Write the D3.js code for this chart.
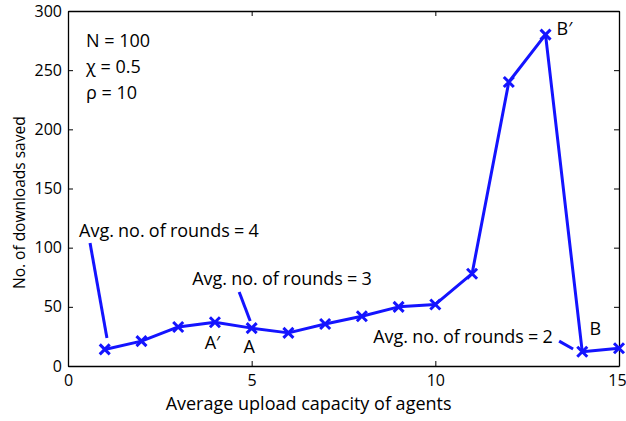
<!DOCTYPE html>
<html>
<head>
<meta charset="utf-8">
<script src="https://cdn.jsdelivr.net/npm/d3@7"></script>
<style>
  body { margin: 0; background: #fff; }
  svg text { font-family: "Open Sans", "Noto Sans", sans-serif; fill: #000; }
</style>
</head>
<body>
<div class="chart"></div>
<script>
// capacity vs downloads saved
const capacity = [1, 2, 3, 4, 5, 6, 7, 8, 9, 10, 11, 12, 13, 14, 15];
const saved = [14, 21, 33, 37, 32, 28, 35.5, 42, 50, 52, 78, 240, 280, 12, 15];
const xTicks = [0, 5, 10, 15];
const yTicks = [0, 50, 100, 150, 200, 250, 300];
const params = ["N = 100", "\u03C7 = 0.5", "\u03C1 = 10"];

var margin = { top: 11, right: 7, bottom: 55, left: 68 },
    width = 626 - margin.left - margin.right,
    height = 421 - margin.top - margin.bottom;

var blue = "#1414ff";

var svg = d3.select('.chart')
    .append('svg')
    .attr("width", width + margin.left + margin.right)
    .attr("height", height + margin.top + margin.bottom)
    .append("g")
    .attr("transform", "translate(" + margin.left + "," + margin.top + ")");

var x = d3.scaleLinear().domain([0, 15]).range([0, width]);
var y = d3.scaleLinear().domain([0, 300]).range([height, 0]);

// axes, ticks pointing inward, mirrored on top/right
svg.append("g")
    .attr("class", "x-axis")
    .attr("transform", "translate(0," + height + ")")
    .call(d3.axisBottom(x).tickValues(xTicks).tickSizeInner(-5).tickSizeOuter(0).tickPadding(9));
svg.append("g")
    .attr("class", "y-axis")
    .call(d3.axisLeft(y).tickValues(yTicks).tickSizeInner(-5).tickSizeOuter(0).tickPadding(6));
svg.append("g")
    .call(d3.axisTop(x).tickValues(xTicks).tickSizeInner(-5).tickSizeOuter(0).tickFormat(""));
svg.append("g")
    .attr("transform", "translate(" + width + ",0)")
    .call(d3.axisRight(y).tickValues(yTicks).tickSizeInner(-5).tickSizeOuter(0).tickFormat(""));

svg.selectAll(".domain").attr("stroke", "#000").attr("stroke-width", 1.3);
svg.selectAll(".tick line").attr("stroke", "#000");
svg.selectAll(".tick text").style("font-size", "16px");
svg.select(".x-axis").selectAll(".tick text")
    .attr("dx", function (d) { return d === 15 ? "-2" : "0"; });

svg.append("text")
    .attr("x", x(6.55))
    .attr("y", height + 44)
    .attr("text-anchor", "middle")
    .style("font-size", "18px")
    .text("Average upload capacity of agents");

svg.append("text")
    .attr("transform", "translate(" + (25 - margin.left) + "," + y(138) + ") rotate(-90)")
    .attr("text-anchor", "middle")
    .style("font-size", "15.5px")
    .text("No. of downloads saved");

// parameter box text
svg.selectAll(".param")
    .data(params)
    .enter()
    .append("text")
    .attr("class", "param")
    .attr("x", x(0.49))
    .attr("y", function (d, i) { return y(270) + i * 26; })
    .style("font-size", "18px")
    .text(function (d) { return d; });

// annotation leaders
var leaders = [
    [[0.6, 104], [1.06, 23.7]],
    [[4.66, 62.5], [4.96, 38]],
    [[13.37, 21], [13.75, 14.4]]
];
svg.selectAll(".leader")
    .data(leaders)
    .enter()
    .append("line")
    .attr("x1", function (d) { return x(d[0][0]); })
    .attr("y1", function (d) { return y(d[0][1]); })
    .attr("x2", function (d) { return x(d[1][0]); })
    .attr("y2", function (d) { return y(d[1][1]); })
    .attr("stroke", blue)
    .attr("stroke-width", 3);

var labels = [
    { t: "Avg. no. of rounds = 4", x: 0.3, y: 109, a: "start" },
    { t: "Avg. no. of rounds = 3", x: 3.38, y: 68.5, a: "start" },
    { t: "Avg. no. of rounds = 2", x: 13.2, y: 19.4, a: "end" },
    { t: "A\u2032", x: 3.72, y: 14.4, a: "start" },
    { t: "A", x: 4.78, y: 11, a: "start" },
    { t: "B", x: 14.2, y: 26, a: "start" },
    { t: "B\u2032", x: 13.3, y: 280, a: "start" }
];
svg.selectAll(".lab")
    .data(labels)
    .enter()
    .append("text")
    .attr("class", "lab")
    .attr("x", function (d) { return x(d.x); })
    .attr("y", function (d) { return y(d.y); })
    .attr("text-anchor", function (d) { return d.a; })
    .style("font-size", "18px")
    .style("word-spacing", "-0.5px")
    .text(function (d) { return d.t; });

var pts = capacity.map(function (c, i) { return [c, saved[i]]; });

svg.append("path")
    .datum(pts)
    .attr("fill", "none")
    .attr("stroke", blue)
    .attr("stroke-width", 3)
    .attr("stroke-linejoin", "round")
    .attr("d", d3.line().x(function (d) { return x(d[0]); }).y(function (d) { return y(d[1]); }));

var s = 5;
svg.selectAll(".mark")
    .data(pts)
    .enter()
    .append("path")
    .attr("class", "mark")
    .attr("transform", function (d) { return "translate(" + x(d[0]) + "," + y(d[1]) + ")"; })
    .attr("d", "M" + (-s) + "," + (-s) + "L" + s + "," + s + "M" + (-s) + "," + s + "L" + s + "," + (-s))
    .attr("stroke", blue)
    .attr("stroke-width", 3)
    .attr("fill", "none");
</script>
</body>
</html>
